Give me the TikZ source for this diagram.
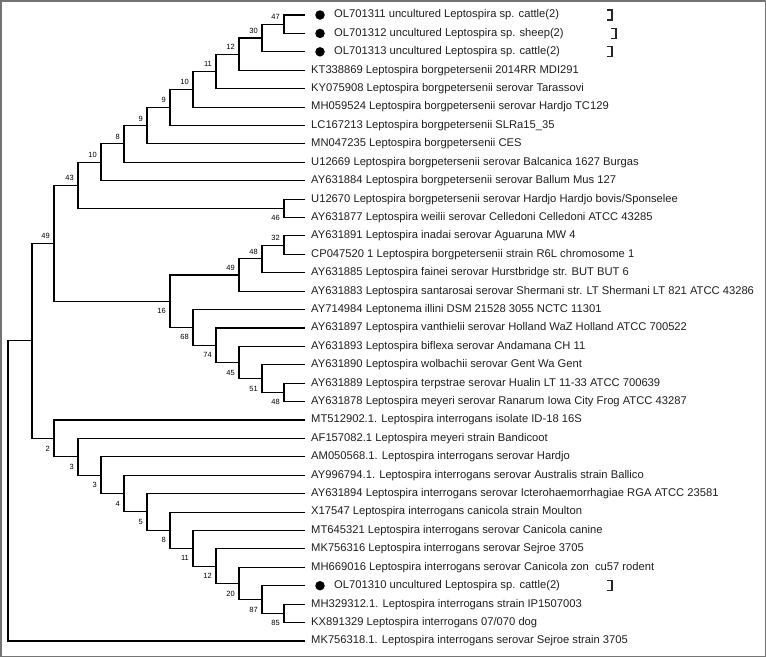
\documentclass[tikz,border=0pt]{standalone}
\usepackage{fontspec}
\setmainfont{Liberation Sans}
\begin{document}
\begin{tikzpicture}[x=1pt,y=-1pt,
  br/.style={line width=1.1pt, black},
  leaf/.style={anchor=west, inner sep=0pt, font=\fontsize{11.2}{12}\selectfont, text=black!88},
  bsu/.style={anchor=east, inner sep=0pt, xshift=-4pt, yshift=7pt, font=\fontsize{7.5}{8}\selectfont},
  bsl/.style={anchor=east, inner sep=0pt, xshift=-4pt, yshift=-10pt, font=\fontsize{7.5}{8}\selectfont},
  dotm/.style={circle, fill=black, inner sep=0pt, minimum size=9.5pt},
  brk/.style={line width=1.2pt, black!85}]
\useasboundingbox (0,0) rectangle (766,657);
\draw[black!55, line width=1.5pt] (0.75,0.75) rectangle (765.25,656.25);

% leaf end points
\coordinate (L1) at (305,15.00);
\coordinate (L2) at (305,33.41);
\coordinate (L3) at (305,51.82);
\coordinate (L4) at (305,70.23);
\coordinate (L5) at (305,88.64);
\coordinate (L6) at (305,107.05);
\coordinate (L7) at (305,125.46);
\coordinate (L8) at (305,143.87);
\coordinate (L9) at (305,162.28);
\coordinate (L10) at (305,180.69);
\coordinate (L11) at (305,199.10);
\coordinate (L12) at (305,217.51);
\coordinate (L13) at (305,235.92);
\coordinate (L14) at (305,254.33);
\coordinate (L15) at (305,272.74);
\coordinate (L16) at (305,291.15);
\coordinate (L17) at (305,309.56);
\coordinate (L18) at (305,327.97);
\coordinate (L19) at (305,346.38);
\coordinate (L20) at (305,364.79);
\coordinate (L21) at (305,383.20);
\coordinate (L22) at (305,401.61);
\coordinate (L23) at (305,420.02);
\coordinate (L24) at (305,438.43);
\coordinate (L25) at (305,456.84);
\coordinate (L26) at (305,475.25);
\coordinate (L27) at (305,493.66);
\coordinate (L28) at (305,512.07);
\coordinate (L29) at (305,530.48);
\coordinate (L30) at (305,548.89);
\coordinate (L31) at (305,567.30);
\coordinate (L32) at (305,585.71);
\coordinate (L33) at (305,604.12);
\coordinate (L34) at (305,622.53);
\coordinate (L35) at (305,640.94);

% internal nodes
\coordinate (n47) at (284,24.20);
\coordinate (n30) at (262,38.01);
\coordinate (n12a) at (239,54.12);
\coordinate (n11a) at (216,71.38);
\coordinate (n10a) at (193,89.22);
\coordinate (n9a) at (170,107.34);
\coordinate (n9b) at (147,125.60);
\coordinate (n8a) at (124,143.94);
\coordinate (n10b) at (101,162.32);
\coordinate (n46) at (284,208.30);
\coordinate (n43) at (78,185.31);
\coordinate (n32) at (284,245.13);
\coordinate (n48a) at (262,258.93);
\coordinate (n49b) at (239,275.04);
\coordinate (n48b) at (284,392.40);
\coordinate (n51) at (262,378.60);
\coordinate (n45) at (239,362.49);
\coordinate (n74) at (216,345.23);
\coordinate (n68) at (193,327.40);
\coordinate (n16) at (170,301.22);
\coordinate (nB) at (54,243.27);
\coordinate (n85) at (284,613.33);
\coordinate (n87) at (262,599.52);
\coordinate (n20) at (239,583.41);
\coordinate (n12c) at (216,566.15);
\coordinate (n11c) at (193,548.32);
\coordinate (n8c) at (170,530.20);
\coordinate (n5) at (147,511.93);
\coordinate (n4) at (124,493.59);
\coordinate (n3b) at (101,475.22);
\coordinate (n3a) at (78,456.83);
\coordinate (n2) at (54,438.43);
\coordinate (nC) at (32,340.85);
\coordinate (root) at (8,490.90);

% branches
\draw[br] (L1) -| (n47) |- (L2);
\draw[br] (n47) -| (n30) |- (L3);
\draw[br] (n30) -| (n12a) |- (L4);
\draw[br] (n12a) -| (n11a) |- (L5);
\draw[br] (n11a) -| (n10a) |- (L6);
\draw[br] (n10a) -| (n9a) |- (L7);
\draw[br] (n9a) -| (n9b) |- (L8);
\draw[br] (n9b) -| (n8a) |- (L9);
\draw[br] (n8a) -| (n10b) |- (L10);
\draw[br] (L11) -| (n46) |- (L12);
\draw[br] (n10b) -| (n43) |- (n46);
\draw[br] (L13) -| (n32) |- (L14);
\draw[br] (n32) -| (n48a) |- (L15);
\draw[br] (n48a) -| (n49b) |- (L16);
\draw[br] (L21) -| (n48b) |- (L22);
\draw[br] (L20) -| (n51) |- (n48b);
\draw[br] (L19) -| (n45) |- (n51);
\draw[br] (L18) -| (n74) |- (n45);
\draw[br] (L17) -| (n68) |- (n74);
\draw[br] (n49b) -| (n16) |- (n68);
\draw[br] (n43) -| (nB) |- (n16);
\draw[br] (L33) -| (n85) |- (L34);
\draw[br] (L32) -| (n87) |- (n85);
\draw[br] (L31) -| (n20) |- (n87);
\draw[br] (L30) -| (n12c) |- (n20);
\draw[br] (L29) -| (n11c) |- (n12c);
\draw[br] (L28) -| (n8c) |- (n11c);
\draw[br] (L27) -| (n5) |- (n8c);
\draw[br] (L26) -| (n4) |- (n5);
\draw[br] (L25) -| (n3b) |- (n4);
\draw[br] (L24) -| (n3a) |- (n3b);
\draw[br] (L23) -| (n2) |- (n3a);
\draw[br] (nB) -| (nC) |- (n2);
\draw[br] (nC) -| (root) |- (L35);

% bootstrap values
\node[bsu] (b47) at (n47) {47};
\node[bsu] (b30) at (n30) {30};
\node[bsu] (b12a) at (n12a) {12};
\node[bsu] (b11a) at (n11a) {11};
\node[bsu] (b10a) at (n10a) {10};
\node[bsu] (b9a) at (n9a) {9};
\node[bsu] (b9b) at (n9b) {9};
\node[bsu] (b8a) at (n8a) {8};
\node[bsu] (b10b) at (n10b) {10};
\node[bsu] (b43) at (n43) {43};
\node[bsl] (b46) at (n46) {46};
\node[bsu] (bB) at (nB) {49};
\node[bsu] (b32) at (n32) {32};
\node[bsu] (b48a) at (n48a) {48};
\node[bsu] (b49b) at (n49b) {49};
\node[bsl] (b16) at (n16) {16};
\node[bsl] (b68) at (n68) {68};
\node[bsl] (b74) at (n74) {74};
\node[bsl] (b45) at (n45) {45};
\node[bsl] (b51) at (n51) {51};
\node[bsl] (b48b) at (n48b) {48};
\node[bsl] (b2) at (n2) {2};
\node[bsl] (b3a) at (n3a) {3};
\node[bsl] (b3b) at (n3b) {3};
\node[bsl] (b4) at (n4) {4};
\node[bsl] (b5) at (n5) {5};
\node[bsl] (b8c) at (n8c) {8};
\node[bsl] (b11c) at (n11c) {11};
\node[bsl] (b12c) at (n12c) {12};
\node[bsl] (b20) at (n20) {20};
\node[bsl] (b87) at (n87) {87};
\node[bsl] (b85) at (n85) {85};

% marked sequences
\node[dotm] (d1) at (320,15.00) {};
\node[dotm] (d2) at (320,33.41) {};
\node[dotm] (d3) at (320,51.82) {};
\node[dotm] (d32) at (320,585.71) {};
\draw[brk] (607,10.00) -- (612,10.00) -- (612,20.00) -- (607,20.00);
\draw[brk] (611,28.41) -- (616,28.41) -- (616,38.41) -- (611,38.41);
\draw[brk] (607,46.82) -- (612,46.82) -- (612,56.82) -- (607,56.82);
\draw[brk] (607,580.71) -- (612,580.71) -- (612,590.71) -- (607,590.71);

% leaf labels
\node[leaf] (t1) at (334,15.00) {OL701311 uncultured Leptospira sp. cattle(2)};
\node[leaf] (t2) at (334,33.41) {OL701312 uncultured Leptospira sp. sheep(2)};
\node[leaf] (t3) at (334,51.82) {OL701313 uncultured Leptospira sp. cattle(2)};
\node[leaf] (t4) at (311,70.23) {KT338869 Leptospira borgpetersenii 2014RR MDI291};
\node[leaf] (t5) at (311,88.64) {KY075908 Leptospira borgpetersenii serovar Tarassovi};
\node[leaf] (t6) at (311,107.05) {MH059524 Leptospira borgpetersenii serovar Hardjo TC129};
\node[leaf] (t7) at (311,125.46) {LC167213 Leptospira borgpetersenii SLRa15\_35};
\node[leaf] (t8) at (311,143.87) {MN047235 Leptospira borgpetersenii CES};
\node[leaf] (t9) at (311,162.28) {U12669 Leptospira borgpetersenii serovar Balcanica 1627 Burgas};
\node[leaf] (t10) at (311,180.69) {AY631884 Leptospira borgpetersenii serovar Ballum Mus 127};
\node[leaf] (t11) at (311,199.10) {U12670 Leptospira borgpetersenii serovar Hardjo Hardjo bovis/Sponselee};
\node[leaf] (t12) at (311,217.51) {AY631877 Leptospira weilii serovar Celledoni Celledoni ATCC 43285};
\node[leaf] (t13) at (311,235.92) {AY631891 Leptospira inadai serovar Aguaruna MW 4};
\node[leaf] (t14) at (311,254.33) {CP047520 1 Leptospira borgpetersenii strain R6L chromosome 1};
\node[leaf] (t15) at (311,272.74) {AY631885 Leptospira fainei serovar Hurstbridge str. BUT BUT 6};
\node[leaf] (t16) at (311,291.15) {AY631883 Leptospira santarosai serovar Shermani str. LT Shermani LT 821 ATCC 43286};
\node[leaf] (t17) at (311,309.56) {AY714984 Leptonema illini DSM 21528 3055 NCTC 11301};
\node[leaf] (t18) at (311,327.97) {AY631897 Leptospira vanthielii serovar Holland WaZ Holland ATCC 700522};
\node[leaf] (t19) at (311,346.38) {AY631893 Leptospira biflexa serovar Andamana CH 11};
\node[leaf] (t20) at (311,364.79) {AY631890 Leptospira wolbachii serovar Gent Wa Gent};
\node[leaf] (t21) at (311,383.20) {AY631889 Leptospira terpstrae serovar Hualin LT 11-33 ATCC 700639};
\node[leaf] (t22) at (311,401.61) {AY631878 Leptospira meyeri serovar Ranarum Iowa City Frog ATCC 43287};
\node[leaf] (t23) at (311,420.02) {MT512902.1. Leptospira interrogans isolate ID-18 16S};
\node[leaf] (t24) at (311,438.43) {AF157082.1 Leptospira meyeri strain Bandicoot};
\node[leaf] (t25) at (311,456.84) {AM050568.1. Leptospira interrogans serovar Hardjo};
\node[leaf] (t26) at (311,475.25) {AY996794.1. Leptospira interrogans serovar Australis strain Ballico};
\node[leaf] (t27) at (311,493.66) {AY631894 Leptospira interrogans serovar Icterohaemorrhagiae RGA ATCC 23581};
\node[leaf] (t28) at (311,512.07) {X17547 Leptospira interrogans canicola strain Moulton};
\node[leaf] (t29) at (311,530.48) {MT645321 Leptospira interrogans serovar Canicola canine};
\node[leaf] (t30) at (311,548.89) {MK756316 Leptospira interrogans serovar Sejroe 3705};
\node[leaf] (t31) at (311,567.30) {MH669016 Leptospira interrogans serovar Canicola zon\ \ cu57 rodent};
\node[leaf] (t32) at (334,585.71) {OL701310 uncultured Leptospira sp. cattle(2)};
\node[leaf] (t33) at (311,604.12) {MH329312.1. Leptospira interrogans strain IP1507003};
\node[leaf] (t34) at (311,622.53) {KX891329 Leptospira interrogans 07/070 dog};
\node[leaf] (t35) at (311,640.94) {MK756318.1. Leptospira interrogans serovar Sejroe strain 3705};
\end{tikzpicture}
\end{document}
